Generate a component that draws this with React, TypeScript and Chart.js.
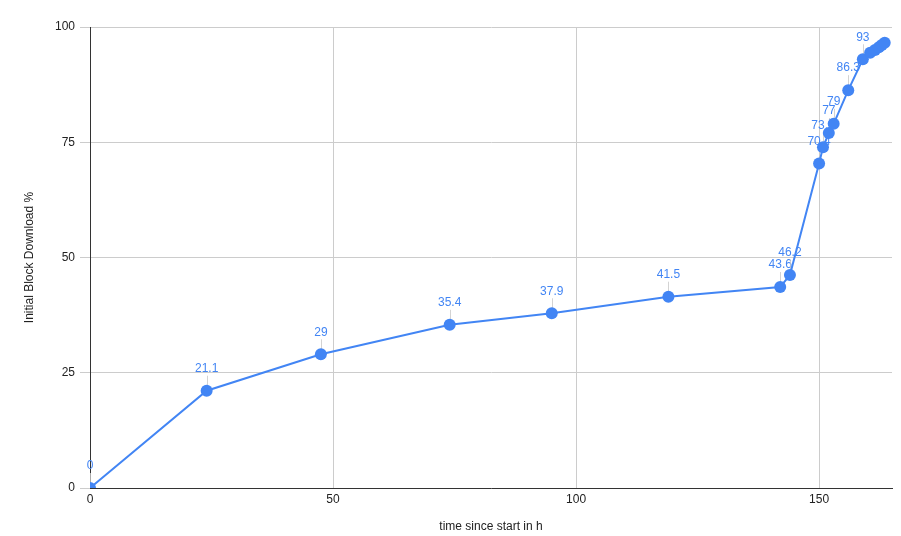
import React, { useEffect, useRef } from "react";
import { Chart, registerables } from "chart.js";

Chart.register(...registerables);

const hours = [0, 24, 47.5, 74, 95, 119, 142, 144, 150, 150.8, 152, 153, 156, 159, 160.5, 161.5, 162.3, 162.9, 163.5];
const percent = [0, 21.1, 29, 35.4, 37.9, 41.5, 43.6, 46.2, 70.4, 73.9, 77, 79, 86.3, 93, 94.4, 95.0, 95.6, 96.1, 96.6];
const pointLabels = ["0", "21.1", "29", "35.4", "37.9", "41.5", "43.6", "46.2", "70.4", "73.9", "77", "79", "86.3", "93", "", "", "", "", ""];
const xTitle = "time since start in h";
const yTitle = "Initial Block Download %";

const BLUE = "#4285f4";
const FONT = "'Liberation Sans', Arial, sans-serif";

const overlay = {
  id: "overlay",
  beforeDatasetsDraw(chart: any) {
    const ctx = chart.ctx;
    const meta = chart.getDatasetMeta(0);
    ctx.save();
    ctx.font = `12px ${FONT}`;
    ctx.textAlign = "center";
    ctx.textBaseline = "middle";
    meta.data.forEach((pt: any, i: number) => {
      const t = pointLabels[i];
      if (!t) return;
      ctx.strokeStyle = "rgba(200,200,200,0.8)";
      ctx.lineWidth = 1;
      ctx.beginPath();
      ctx.moveTo(Math.round(pt.x) + 0.5, pt.y);
      ctx.lineTo(Math.round(pt.x) + 0.5, pt.y - 15);
      ctx.stroke();
      ctx.fillStyle = BLUE;
      ctx.fillText(t, pt.x, pt.y - 22);
    });
    ctx.restore();
  },
  afterDatasetsDraw(chart: any) {
    const ctx = chart.ctx;
    const area = chart.chartArea;
    ctx.save();
    ctx.textAlign = "center";
    ctx.textBaseline = "middle";
    ctx.fillStyle = "#222";
    ctx.font = `12px ${FONT}`;
    ctx.fillText(xTitle, (area.left + area.right) / 2, 527);
    ctx.translate(30, (area.top + area.bottom) / 2);
    ctx.rotate(-Math.PI / 2);
    ctx.fillText(yTitle, 0, 0);
    ctx.restore();
  },
};

export default function App() {
  const ref = useRef<HTMLCanvasElement>(null);
  useEffect(() => {
    document.body.style.margin = "0";
    const chart = new Chart(ref.current!, {
      type: "scatter",
      data: {
        datasets: [
          {
            data: hours.map((h, i) => ({ x: h, y: percent[i] })),
            showLine: true,
            borderColor: BLUE,
            backgroundColor: BLUE,
            borderWidth: 2,
            pointRadius: 6,
            pointBackgroundColor: BLUE,
            pointBorderWidth: 0,
          },
        ],
      },
      options: {
        animation: false,
        responsive: false,
        layout: { padding: { left: 0, right: 9, top: 27, bottom: 0 } },
        plugins: { legend: { display: false }, tooltip: { enabled: false } },
        scales: {
          x: {
            type: "linear",
            min: 0,
            max: 165,
            ticks: { stepSize: 50, includeBounds: false, color: "#222", font: { size: 12, family: FONT }, padding: 4 },
            grid: { color: "#cccccc", drawTicks: false },
            border: { display: true, color: "#333" },
            afterFit: (s: any) => { s.height = 48; },
          },
          y: {
            min: 0,
            max: 100,
            ticks: { stepSize: 25, color: "#222", font: { size: 12, family: FONT }, padding: 5 },
            grid: { color: "#cccccc", tickLength: 10 },
            border: { display: true, color: "#333" },
            afterFit: (s: any) => { s.width = 90; },
          },
        },
      },
      plugins: [overlay],
    } as any);
    return () => chart.destroy();
  }, []);
  return (
    <div style={{ width: 901, height: 536, background: "#fff" }}>
      <canvas ref={ref} width={901} height={536} style={{ display: "block" }} />
    </div>
  );
}
